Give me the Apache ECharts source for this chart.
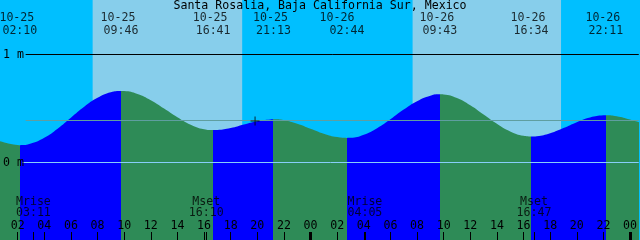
<!DOCTYPE html>
<html><head><meta charset="utf-8">
<script src="https://cdn.jsdelivr.net/npm/echarts@6/dist/echarts.min.js"></script>
<style>html,body{margin:0;padding:0;background:#00BFFF}#c{width:640px;height:240px}</style>
</head><body><div id="c"></div>
<script>
// ---------- data ----------
const TITLE = 'Santa Rosalia, Baja California Sur, Mexico';
const FIRST_DAY = '10-25';
const EXT_DATE = ['10-25','10-25','10-25','10-25','10-26','10-26','10-26','10-26'];
const EXT_TIME = ['02:10','09:46','16:41','21:13','02:44','09:43','16:34','22:11'];
const EXT_HEIGHT = [0.160, 0.663, 0.300, 0.400, 0.228, 0.632, 0.241, 0.438];
const CURVE_HOUR = [0,1,2,3,4,5,6,7,8,9,10,11,12,13,14,15,16,17,18,19,20,21,22,23,24,25,26,27,28,29,30,31,32,33,34,35,36,37,38,39,40,41,42,43,44,45,46,47,48,49];
const CURVE_HEIGHT = [0.222,0.186,0.162,0.175,0.229,0.313,0.415,0.516,0.599,0.651,0.662,0.635,0.577,0.500,0.419,0.350,0.308,0.301,0.319,0.352,0.383,0.399,0.392,0.359,0.313,0.267,0.235,0.229,0.258,0.318,0.400,0.490,0.568,0.619,0.630,0.597,0.530,0.444,0.358,0.287,0.247,0.244,0.271,0.319,0.373,0.417,0.437,0.428,0.398,0.360];
const MOON_DATE = ['10-25','10-25','10-26','10-26'];
const MOON_EVENT = ['Mrise','Mset','Mrise','Mset'];
const MOON_TIME = ['03:11','16:10','04:05','16:47'];
const SUN_DATE = ['10-25','10-26'];
const SUNRISE = ['07:38','07:40'];
const SUNSET = ['18:52','18:49'];
const HOUR_TICKS = [2,4,6,8,10,12,14,16,18,20,22,24,26,28,30,32,34,36,38,40,42,44,46,48];
const MIDNIGHTS = [24,48];
const LABELLED_LEVELS = [0, 1];
const MEAN_LEVEL = 0.389;
const NOW_DATE = '10-25', NOW_TIME = '19:50', NOW_HEIGHT = 0.384;

// ---------- layout / style ----------
const X_MIN = 0.75, X_MAX = 48.655;
const Y_MAX = 162.5/108, Y_MIN = Y_MAX - 240/108;
const LINE_START = 2.6;
const FONT = 'DejaVu Sans Mono';
const FS = 11.6;
const DATE_SHIFT = [6,6,6,6,20,6,6,6];
const C_NIGHT = '#00BFFF', C_DAY = '#87CEEB', C_RISE = '#0000FF', C_FALL = '#2E8B57';

function toHour(date, time) {
  const d = parseInt(date.split('-')[1],10) - parseInt(FIRST_DAY.split('-')[1],10);
  const [h,m] = time.split(':').map(Number);
  return d*24 + h + m/60;
}
const EXT_T = EXT_DATE.map((d,i)=>toHour(d, EXT_TIME[i]));
const MOON_T = MOON_DATE.map((d,i)=>toHour(d, MOON_TIME[i]));

// merge curve points with the extremes
const pts = CURVE_HOUR.map((h,i)=>[h, CURVE_HEIGHT[i]]).concat(EXT_T.map((t,i)=>[t, EXT_HEIGHT[i]]));
pts.sort((a,b)=>a[0]-b[0]);

// rising / falling pieces
const pieces = [];
const firstRising = EXT_HEIGHT[1] > EXT_HEIGHT[0];
pieces.push({lt: EXT_T[0], color: firstRising ? C_FALL : C_RISE});
for (let i=0;i<EXT_T.length-1;i++) {
  pieces.push({gte: EXT_T[i], lt: EXT_T[i+1], color: EXT_HEIGHT[i+1] > EXT_HEIGHT[i] ? C_RISE : C_FALL});
}
const lastN = EXT_T.length-1;
pieces.push({gte: EXT_T[lastN], color: EXT_HEIGHT[lastN] > EXT_HEIGHT[lastN-1] ? C_FALL : C_RISE});

const pad2 = v => String(v).padStart(2,'0');
const txt = {fontFamily: FONT, fontSize: FS, color: '#000'};

const chart = echarts.init(document.getElementById('c'), null, {renderer:'canvas'});
chart.setOption({
  animation: false,
  backgroundColor: C_NIGHT,
  title: {text: TITLE, left: 'center', top: 0, padding: 0,
    textStyle: Object.assign({fontWeight: 'normal', lineHeight: 12}, txt)},
  grid: {left: 0, right: 0, top: 0, bottom: 0, containLabel: false},
  visualMap: {type: 'piecewise', show: false, dimension: 0, seriesIndex: 1, pieces: pieces},
  xAxis: [
    {type: 'value', min: X_MIN, max: X_MAX, position: 'bottom', z: 10,
     axisLine: {show: false, onZero: false}, splitLine: {show: false},
     axisTick: {show: true, inside: true, length: 8, lineStyle: {color: '#000', width: 1},
       customValues: HOUR_TICKS.concat(MOON_T)},
     axisLabel: {show: true, inside: true, margin: 8, customValues: HOUR_TICKS,
       formatter: v => pad2(Math.round(v) % 24), fontFamily: FONT, fontSize: FS, color: '#000'}},
    {type: 'value', min: X_MIN, max: X_MAX, position: 'bottom', z: 10,
     axisLine: {show: false, onZero: false}, splitLine: {show: false}, axisLabel: {show: false},
     axisTick: {show: true, inside: true, length: 8, lineStyle: {color: '#000', width: 3},
       customValues: MIDNIGHTS}}
  ],
  yAxis: {type: 'value', min: Y_MIN, max: Y_MAX, position: 'left', z: 10,
    axisLine: {show: false, onZero: false}, axisTick: {show: false}, splitLine: {show: false},
    axisLabel: {show: true, inside: true, margin: 2, customValues: LABELLED_LEVELS,
      formatter: v => v + ' m', fontFamily: FONT, fontSize: FS, color: '#000', verticalAlign: 'middle'}},
  series: [
    {type: 'line', z: 1, data: [], silent: true,
     markArea: {silent: true,
       data: SUN_DATE.map((d,i)=>[{xAxis: toHour(d, SUNRISE[i]), itemStyle: {color: C_DAY, opacity: 1}},
                                  {xAxis: toHour(d, SUNSET[i])}])}},
    {type: 'line', z: 2, data: pts, smooth: 0.5, showSymbol: false, silent: true,
     lineStyle: {width: 0}, areaStyle: {opacity: 1, origin: 'start'}},
    {type: 'line', z: 3, data: [], silent: true,
     markLine: {silent: true, symbol: ['none','none'], label: {show: false},
       data: [
         [{coord: [LINE_START, 1], lineStyle: {color: '#000', width: 1, type: 'solid'}}, {coord: [X_MAX, 1]}],
         [{coord: [LINE_START - 0.25, 0], lineStyle: {color: '#87CEFA', width: 1, type: 'solid'}}, {coord: [X_MAX, 0]}],
         [{coord: [LINE_START, MEAN_LEVEL], lineStyle: {color: '#5F9EA0', width: 1, type: 'solid'}}, {coord: [X_MAX, MEAN_LEVEL]}]
       ]}},
    {type: 'scatter', z: 5, clip: false, silent: true, symbolSize: 1, itemStyle: {color: 'rgba(0,0,0,0)'},
     data: EXT_T.map((t,i)=>({value: [t, Y_MAX],
       label: {show: true, position: 'bottom', distance: 10.5, align: 'center',
         formatter: '{d|' + EXT_DATE[i] + '}\n{t|' + EXT_TIME[i] + '}',
         rich: {d: Object.assign({lineHeight: 13, padding: [0, DATE_SHIFT[i], 0, 0]}, txt),
                t: Object.assign({lineHeight: 13}, txt)}}}))},
    {type: 'scatter', z: 5, clip: false, silent: true, symbolSize: 1, itemStyle: {color: 'rgba(0,0,0,0)'},
     data: MOON_T.map((t,i)=>({value: [t, Y_MIN],
       label: Object.assign({show: true, position: 'top', distance: 21, align: 'center', lineHeight: 11,
         formatter: MOON_EVENT[i] + '\n' + MOON_TIME[i]}, txt)}))},
    {type: 'scatter', z: 6, clip: false, silent: true,
     symbol: 'path://M0,4h9v1h-9zM4,0h1v9h-1z', symbolSize: 9, itemStyle: {color: '#000'},
     data: [[toHour(NOW_DATE, NOW_TIME), NOW_HEIGHT]]}
  ]
});
</script></body></html>
